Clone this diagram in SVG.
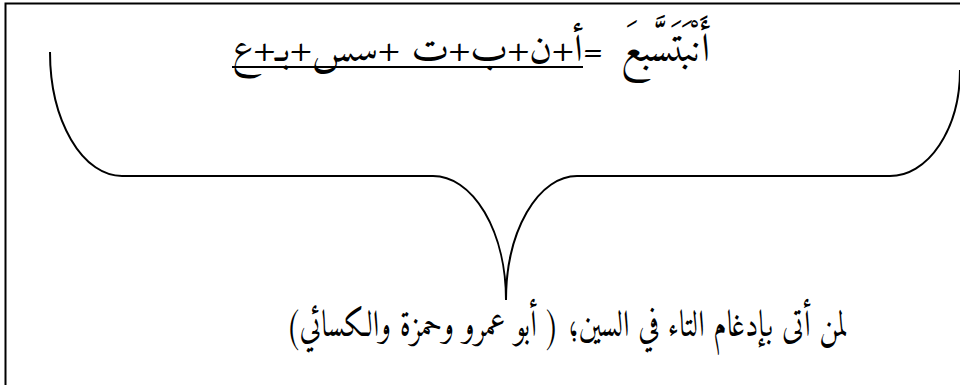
<svg xmlns="http://www.w3.org/2000/svg" width="960" height="385" viewBox="0 0 960 385">
<style>
.ar{font-family:"Amiri","Liberation Serif",serif;fill:#000;direction:rtl;unicode-bidi:embed}
.w{font-size:40px}
.t{font-size:38px}
.b{font-size:37px}
.ln{fill:none;stroke:#000;stroke-width:2}
</style>
<rect x="0" y="0" width="960" height="385" fill="#fff"/>
<g id="frame"><path class="ln" d="M5.5,400 L5.5,3.5 L970,3.5"/></g>
<g id="connectors"><path class="ln" d="M50,52 A72,124 0 0 0 122,176 L433,176 A73,124 0 0 1 506,300 A71,124 0 0 1 577,176 L890,176 A70,106 0 0 0 960,70"/></g>
<g id="top-label">
<text class="ar w" x="710" y="61" text-anchor="start">أَنْبَتَسَّبعَ</text>
<text class="ar t" x="593" y="61" text-anchor="middle" style="direction:ltr">=</text>
<text class="ar t" x="583" y="61" text-anchor="start" textLength="351" lengthAdjust="spacingAndGlyphs">أ+ن+ب+ت +سس+بـ+ع</text>
<line class="ln" x1="232" y1="67" x2="583" y2="67" stroke-width="1.5"/>
</g>
<g id="bottom-label">
<text class="ar b" x="848" y="336" text-anchor="start" textLength="562" lengthAdjust="spacingAndGlyphs">لمن أتى بإدغام التاء في السين؛ ( أبو عمرو وحمزة والكسائي)</text>
</g>
</svg>
